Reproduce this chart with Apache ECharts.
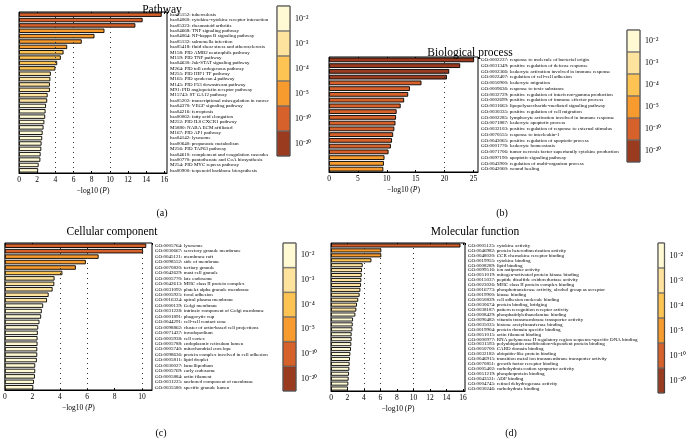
<!DOCTYPE html>
<html><head><meta charset="utf-8">
<script src="https://cdn.jsdelivr.net/npm/echarts@6/dist/echarts.min.js"></script>
<style>html,body{margin:0;padding:0;background:#fff}#c{width:689px;height:444px}</style>
</head><body><div id="c"></div>
<script>
const catA = ['hsa05152: tuberculosis','hsa04060: cytokine-cytokine receptor interaction','hsa05323: rheumatoid arthritis','hsa04668: TNF signaling pathway','hsa04064: NF-kappa B signaling pathway','hsa05132: salmonella infection','hsa05418: fluid shear stress and atherosclerosis','M158: PID AMB2 neutrophils pathway','M159: PID TNF pathway','hsa04630: Jak-STAT signaling pathway','M264: PID toll endogenous pathway','M255: PID HIF1 TF pathway','M165: PID syndecan 4 pathway','M145: PID P53 downstream pathway','M91: PID angiopoietin receptor pathway','M15743: ST GA12 pathway','hsa05202: transcriptional misregulation in cancer','hsa04370: VEGF signaling pathway','hsa04216: ferroptosis','hsa00062: fatty acid elongation','M252: PID IL8 CXCR1 pathway','M5880: NABA ECM affiliated','M167: PID AP1 pathway','hsa04142: lysosome','hsa00640: propanoate metabolism','M256: PID TAP63 pathway','hsa04610: complement and coagulation cascades','hsa00770: pantothenate and CoA biosynthesis','M254: PID MYC repress pathway','hsa00900: terpenoid backbone biosynthesis'];
const valA = [15.7,13.6,12.8,9.4,8.3,6.9,5.3,4.9,4.6,4.2,4.0,3.5,3.45,3.4,3.4,3.15,3.1,2.97,2.92,2.88,2.79,2.7,2.6,2.55,2.48,2.45,2.38,2.35,2.16,2.1];

const catB = ['GO:0002237: response to molecule of bacterial origin','GO:0031349: positive regulation of defense response','GO:0002366: leukocyte activation involved in immune response','GO:0022407: regulation of cell-cell adhesion','GO:0050900: leukocyte migration','GO:0009636: response to toxic substance','GO:0032729: positive regulation of interferon-gamma production','GO:0002699: positive regulation of immune effector process','GO:0031663: lipopolysaccharide-mediated signaling pathway','GO:0030335: positive regulation of cell migration','GO:0002285: lymphocyte activation involved in immune response','GO:0071887: leukocyte apoptotic process','GO:0032103: positive regulation of response to external stimulus','GO:0070555: response to interleukin-1','GO:0043065: positive regulation of apoptotic process','GO:0001776: leukocyte homeostasis','GO:0071706: tumor necrosis factor superfamily cytokine production','GO:0097190: apoptotic signaling pathway','GO:0043900: regulation of multi-organism process','GO:0042060: wound healing'];
const valB = [25.1,22.7,20.8,20.4,16.0,14.0,13.7,13.0,12.4,11.7,11.6,11.5,11.3,11.1,10.9,10.7,10.3,9.6,9.5,9.4];

const catC = ['GO:0005764: lysosome','GO:0030667: secretory granule membrane','GO:0045121: membrane raft','GO:0098552: side of membrane','GO:0070820: tertiary granule','GO:0042629: mast cell granule','GO:0005770: late endosome','GO:0042613: MHC class II protein complex','GO:0031092: platelet alpha granule membrane','GO:0005925: focal adhesion','GO:0016324: apical plasma membrane','GO:0000139: Golgi membrane','GO:0031228: intrinsic component of Golgi membrane','GO:0001891: phagocytic cup','GO:0044291: cell-cell contact zone','GO:0098862: cluster of actin-based cell projections','GO:0071437: invadopodium','GO:0005938: cell cortex','GO:0005788: endoplasmic reticulum lumen','GO:0005740: mitochondrial envelope','GO:0098636: protein complex involved in cell adhesion','GO:0005811: lipid droplet','GO:0030027: lamellipodium','GO:0005769: early endosome','GO:0005884: actin filament','GO:0031225: anchored component of membrane','GO:0035580: specific granule lumen'];
const valC = [10.3,10.07,6.83,5.9,5.17,4.19,3.62,3.6,3.48,3.19,3.07,2.79,2.69,2.64,2.52,2.43,2.4,2.38,2.38,2.36,2.36,2.33,2.21,2.21,2.19,2.12,2.07];

const catD = ['GO:0005125: cytokine activity','GO:0046982: protein heterodimerization activity','GO:0048020: CCR chemokine receptor binding','GO:0019955: cytokine binding','GO:0008289: lipid binding','GO:0099516: ion antiporter activity','GO:0051019: mitogen-activated protein kinase binding','GO:0015037: peptide disulfide oxidoreductase activity','GO:0023026: MHC class II protein complex binding','GO:0016773: phosphotransferase activity, alcohol group as acceptor','GO:0019900: kinase binding','GO:0050839: cell adhesion molecule binding','GO:0030674: protein binding, bridging','GO:0038187: pattern recognition receptor activity','GO:0008429: phosphatidylethanolamine binding','GO:0090482: vitamin transmembrane transporter activity','GO:0035035: histone acetyltransferase binding','GO:0019904: protein domain specific binding','GO:0051015: actin filament binding','GO:0000977: RNA polymerase II regulatory region sequence-specific DNA binding','GO:0031593: polyubiquitin modification-dependent protein binding','GO:0050700: CARD domain binding','GO:0032182: ubiquitin-like protein binding','GO:0046915: transition metal ion transmembrane transporter activity','GO:0070851: growth factor receptor binding','GO:0005402: carbohydrate:cation symporter activity','GO:0051219: phosphoprotein binding','GO:0043531: ADP binding','GO:0004745: retinol dehydrogenase activity','GO:0030246: carbohydrate binding'];
const valD = [15.7,6.1,6.1,4.9,3.84,3.76,3.72,3.68,3.64,3.56,3.47,3.3,3.15,3.07,2.95,2.67,2.63,2.59,2.5,2.5,2.46,2.42,2.34,2.3,2.26,2.22,2.18,2.14,2.1,2.06];

const binLabels = ['10⁻²','10⁻³','10⁻⁴','10⁻⁵','10⁻¹⁰','10⁻²⁰'];
const binLower = [0,3,4,5,10,20];
const binColors = ['#FFF9D4','#FEE39E','#FDC454','#F89B2E','#D6612B','#9A3A1F'];
const ones = [1,1,1,1,1,1];
const dotsA = [4,6,10], dotsB = [20], dotsC = [4,6,10], dotsD = [4,6,10];

const FONT = "'Liberation Serif','Times New Roman',serif";
function colorOf(v){ let k=0; for(let i=0;i<binLower.length;i++){ if(v>=binLower[i]) k=i; } return binColors[k]; }

const panels = [
  {cat:catA,val:valA,dots:dotsA,g:{left:19,top:12,width:148,height:161},max:16.28,interval:2},
  {cat:catB,val:valB,dots:dotsB,g:{left:329,top:57,width:149,height:115},max:25.78,interval:5},
  {cat:catC,val:valC,dots:dotsC,g:{left:2,top:243,width:150,height:147},max:10.72,interval:2},
  {cat:catD,val:valD,dots:dotsD,g:{left:331,top:243,width:134,height:148},max:16.25,interval:2}
];
const bars = [
  {left:277,top:6,width:13,height:150},
  {left:627,top:30,width:13,height:132},
  {left:283,top:243,width:13,height:148},
  {left:658,top:243,width:12,height:150}
];

const grid=[], xAxis=[], yAxis=[], series=[];
panels.forEach((p,i)=>{
  grid.push(Object.assign({show:true,borderColor:'#000',borderWidth:1,backgroundColor:'transparent'},p.g));
  xAxis.push({type:'value',gridIndex:i,min:0,max:p.max,interval:p.interval,position:'bottom',
    axisLine:{show:true,lineStyle:{color:'#000',width:1}},
    axisTick:{show:true,inside:true,length:2,lineStyle:{color:'#000'}},
    axisLabel:{color:'#000',fontFamily:FONT,fontSize:7.5,margin:3,showMaxLabel:false},
    splitLine:{show:false},
    name:'−log10 ({i|P})',nameLocation:'middle',nameGap:14,
    nameTextStyle:{color:'#000',fontFamily:FONT,fontSize:7.5,rich:{i:{fontStyle:'italic',fontFamily:FONT,fontSize:7.5,color:'#000'}}}
  });
  xAxis.push({type:'value',gridIndex:i,min:0,max:p.max,interval:p.interval,position:'top',
    axisLine:{show:false},axisTick:{show:true,inside:true,length:2,lineStyle:{color:'#000'}},
    axisLabel:{show:false},splitLine:{show:false}});
  yAxis.push({type:'category',gridIndex:i,data:p.cat,inverse:true,position:'right',
    axisLine:{show:false},axisTick:{show:false},
    axisLabel:{interval:0,color:'#000',fontFamily:FONT,fontSize:5,margin:3,align:'left'}});
  series.push({type:'bar',xAxisIndex:2*i,yAxisIndex:i,data:p.val,z:2,barCategoryGap:'18%',
    itemStyle:{color:(d)=>colorOf(d.value),borderColor:'#000',borderWidth:0.9},
    emphasis:{disabled:true},animation:false});
  series.push({type:'scatter',xAxisIndex:2*i,yAxisIndex:i,data:[],z:1,silent:true,
    markLine:{symbol:'none',silent:true,label:{show:false},animation:false,
      lineStyle:{type:[1,4],color:'#333',width:1},
      data:p.dots.map(v=>({xAxis:v}))}});
});
bars.forEach((b,j)=>{
  const gi = 4+j;
  grid.push(Object.assign({show:true,borderColor:'#222',borderWidth:1},b));
  xAxis.push({type:'value',gridIndex:gi,min:0,max:1,show:false});
  yAxis.push({type:'category',gridIndex:gi,data:binLabels,inverse:true,position:'right',
    axisLine:{show:false},axisTick:{show:false},
    axisLabel:{interval:0,color:'#000',fontFamily:FONT,fontSize:8,margin:5,align:'left'}});
  series.push({type:'bar',xAxisIndex:8+j,yAxisIndex:gi,data:ones,barWidth:'100%',silent:true,
    itemStyle:{color:(d)=>binColors[d.dataIndex],borderColor:'#444',borderWidth:0.6},animation:false});
});

const TS = {fontFamily:FONT,fontSize:11.5,fontWeight:'normal',color:'#000'};
const SS = {fontFamily:FONT,fontSize:10,fontWeight:'normal',color:'#000'};
const chart = echarts.init(document.getElementById('c'),null,{renderer:'canvas'});
chart.setOption({
  animation:false,
  title:[
    {text:'Pathway',left:157,top:-1,textAlign:'center',textStyle:TS},
    {text:'Biological process',left:465,top:42,textAlign:'center',textStyle:TS},
    {text:'Cellular component',left:107,top:221,textAlign:'center',textStyle:TS},
    {text:'Molecular function',left:470,top:221,textAlign:'center',textStyle:TS},
    {text:'(a)',left:157,top:203,textAlign:'center',textStyle:SS},
    {text:'(b)',left:497,top:203,textAlign:'center',textStyle:SS},
    {text:'(c)',left:156,top:423,textAlign:'center',textStyle:SS},
    {text:'(d)',left:506,top:423,textAlign:'center',textStyle:SS}
  ],
  grid, xAxis, yAxis, series
});
</script></body></html>
